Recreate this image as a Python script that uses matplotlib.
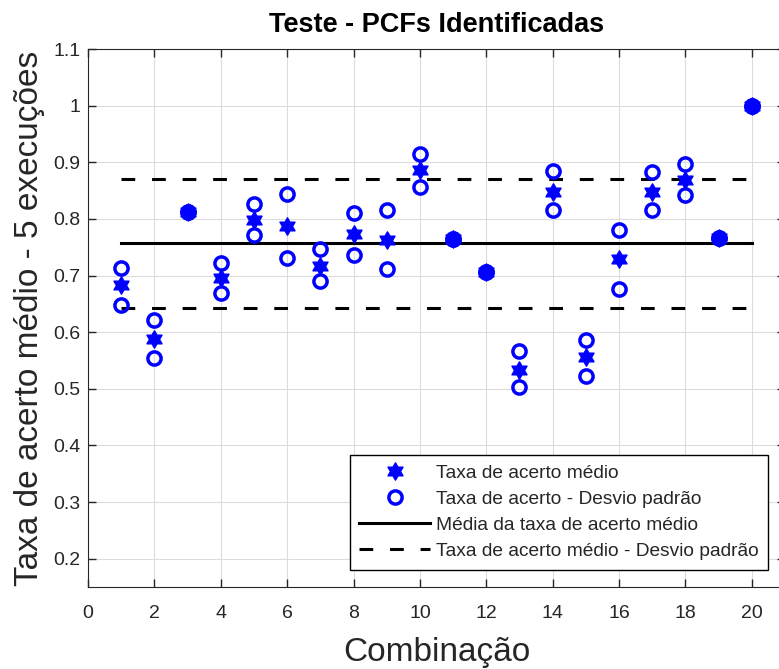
import numpy as np
import matplotlib
matplotlib.use("Agg")
from matplotlib import pyplot as plt
from matplotlib.path import Path
from matplotlib.ticker import FuncFormatter

combinacao = np.arange(1, 21)
taxa_media = [0.683, 0.588, 0.812, 0.695, 0.798, 0.787, 0.716, 0.774, 0.762, 0.886,
              0.765, 0.706, 0.534, 0.848, 0.556, 0.729, 0.848, 0.868, 0.766, 1.000]
taxa_sup = [0.714, 0.622, 0.812, 0.722, 0.827, 0.844, 0.746, 0.810, 0.816, 0.914,
            0.765, 0.706, 0.566, 0.885, 0.586, 0.781, 0.883, 0.897, 0.766, 1.000]
taxa_inf = [0.648, 0.555, 0.812, 0.669, 0.772, 0.731, 0.691, 0.737, 0.712, 0.857,
            0.765, 0.706, 0.503, 0.816, 0.522, 0.677, 0.815, 0.842, 0.766, 1.000]
media_geral = 0.757
faixa_sup = 0.870
faixa_inf = 0.643

plt.rcParams["font.family"] = ["Liberation Sans", "DejaVu Sans"]
cinza = "#262626"

# hexagram (MATLAB 'h'): two overlapping triangles
ang = np.deg2rad(90 + 30 * np.arange(12))
raio = np.where(np.arange(12) % 2 == 0, 1.0, 1 / np.sqrt(3))
verts = np.column_stack([raio * np.cos(ang), raio * np.sin(ang)])
hexagrama = Path(np.vstack([verts, verts[:1]]), closed=True)

fig = plt.figure(figsize=(7.79, 6.69), dpi=100)
ax = fig.add_axes([88 / 779, 1 - 587 / 669, 697 / 779, 538 / 669])

ax.plot(combinacao, taxa_media, linestyle="none", marker=hexagrama, markersize=12.5,
        color="blue", label="Taxa de acerto médio", zorder=4)
ax.plot(combinacao, taxa_sup, linestyle="none", marker="o", markersize=9.5,
        markerfacecolor="none", markeredgecolor="blue", markeredgewidth=2.5,
        label="Taxa de acerto - Desvio padrão", zorder=3)
ax.plot(combinacao, taxa_inf, linestyle="none", marker="o", markersize=9.5,
        markerfacecolor="none", markeredgecolor="blue", markeredgewidth=2.5, zorder=3)

x_linha = [combinacao[0], combinacao[-1]]
ax.plot(x_linha, [media_geral] * 2, color="black", lw=2.2,
        label="Média da taxa de acerto médio", zorder=2)
ax.plot(x_linha, [faixa_sup] * 2, color="black", lw=2.2, dashes=(4.5, 5.5),
        label="Taxa de acerto médio - Desvio padrão", zorder=2)
ax.plot(x_linha, [faixa_inf] * 2, color="black", lw=2.2, dashes=(4.5, 5.5), zorder=2)

ax.set_xlim(0, 21)
ax.set_ylim(0.15, 1.1)
ax.set_xticks(np.arange(0, 21, 2))
ax.set_yticks(np.arange(0.2, 1.11, 0.1))
ax.yaxis.set_major_formatter(FuncFormatter(lambda v, p: f"{v:g}"))
ax.grid(True, color="#dcdcdc", lw=0.8)
ax.set_axisbelow(True)
ax.tick_params(direction="in", top=True, right=True, length=6, width=1,
               colors=cinza, labelsize=14)
ax.tick_params(axis="x", pad=13)
ax.tick_params(axis="y", pad=5.5)
for s in ax.spines.values():
    s.set_color(cinza)

ax.set_title("Teste - PCFs Identificadas", fontsize=19.5, fontweight="bold", pad=12.5)
ax.set_xlabel("Combinação", fontsize=24, color=cinza, labelpad=11)
ax.set_ylabel("Taxa de acerto médio - 5 execuções", fontsize=24, color=cinza, labelpad=6)

leg = ax.legend(loc="lower right", bbox_to_anchor=(0.976, 0.032), fontsize=13.8,
                numpoints=1, handlelength=3.7, handletextpad=0.3, labelspacing=0.45,
                fancybox=False, edgecolor="black", framealpha=1, borderpad=0.5,
                borderaxespad=0)
leg.get_frame().set_linewidth(1.0)
for t in leg.get_texts():
    t.set_color(cinza)

fig.savefig("out.png", dpi=100)
